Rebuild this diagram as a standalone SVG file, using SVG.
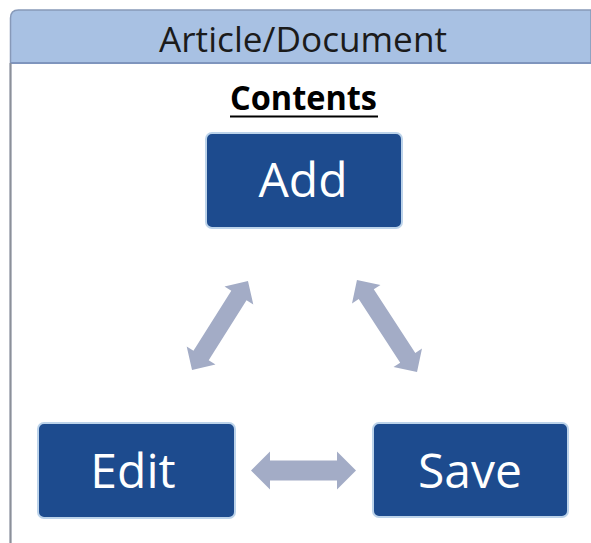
<svg xmlns="http://www.w3.org/2000/svg" width="591" height="543" viewBox="0 0 591 543">
<style>
.node rect{fill:#1d4b8e;stroke:#bcd3ea;stroke-width:2}
.node text{fill:#ffffff;font-family:"Open Sans","Noto Sans",sans-serif;font-size:48px;text-anchor:middle}
.arrow{fill:#a3acc6}
.hdr{font-family:"Open Sans","Noto Sans",sans-serif;font-size:35px;fill:#1b1b1b;text-anchor:middle}
</style>
<rect x="0" y="0" width="591" height="543" fill="#ffffff"/>
<g id="frame">
<path d="M10.5 543 V18 Q10.5 10 18.5 10 H591 V63 H10.5" fill="#a8c1e3" stroke="#8799b8" stroke-width="1.5"/>
<line x1="10.5" y1="63" x2="591" y2="63" stroke="#7f95bd" stroke-width="2"/>
<line x1="10.5" y1="63" x2="10.5" y2="543" stroke="#8c9099" stroke-width="2"/>
<text class="hdr" x="303" y="52" textLength="288" lengthAdjust="spacingAndGlyphs">Article/Document</text>
</g>
<g id="title">
<text x="303.5" y="110" font-family="'Open Sans','Noto Sans',sans-serif" font-size="34" font-weight="bold" fill="#000" text-anchor="middle" textLength="147" lengthAdjust="spacingAndGlyphs">Contents</text>
<line x1="230" y1="116.5" x2="378" y2="116.5" stroke="#000" stroke-width="2"/>
</g>
<g id="connectors">
<path class="arrow" transform="translate(303.5,470.5)" d="M-52.5 0 L-33.5 -19 L-33.5 -10 L33.5 -10 L33.5 -19 L52.5 0 L33.5 19 L33.5 10 L-33.5 10 L-33.5 19 Z"/>
<path class="arrow" transform="translate(220,325.5) rotate(-57.8)" d="M-52.5 0 L-35.5 -17 L-35.5 -9 L35.5 -9 L35.5 -17 L52.5 0 L35.5 17 L35.5 9 L-35.5 9 L-35.5 17 Z"/>
<path class="arrow" transform="translate(387,326) rotate(56.9)" d="M-55 0 L-38 -17 L-38 -9 L38 -9 L38 -17 L55 0 L38 17 L38 9 L-38 9 L-38 17 Z"/>
</g>
<g id="add" class="node">
<rect x="206" y="133" width="196" height="95" rx="6"/>
<text x="303" y="197">Add</text>
</g>
<g id="edit" class="node">
<rect x="38" y="423" width="197" height="95" rx="6"/>
<text x="133" y="488">Edit</text>
</g>
<g id="save" class="node">
<rect x="373" y="423" width="195" height="94" rx="6"/>
<text x="470" y="488">Save</text>
</g>
</svg>
